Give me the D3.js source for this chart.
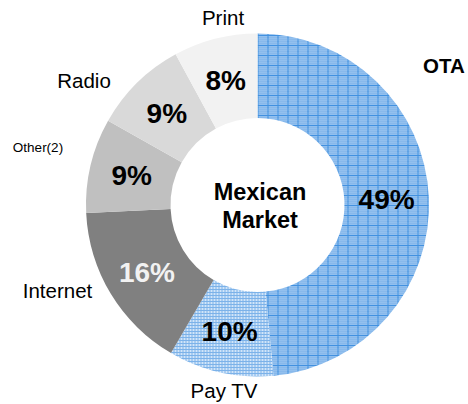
<!DOCTYPE html>
<html>
<head>
<meta charset="utf-8">
<script src="https://cdn.jsdelivr.net/npm/d3@7/dist/d3.min.js"></script>
<style>
  html, body { margin: 0; padding: 0; background: #fff; }
  svg { display: block; font-family: "Liberation Sans", Arial, sans-serif; }
</style>
</head>
<body>
<svg id="chart" width="468" height="404"></svg>
<script>
// Media share of the Mexican advertising market
const categories = ["OTA", "Pay TV", "Internet", "Other(2)", "Radio", "Print"];
const shares = [49, 10, 16, 9, 9, 8];
const valueLabels = ["49%", "10%", "16%", "9%", "9%", "8%"];
const centerTitle = ["Mexican", "Market"];

const width = 468, height = 404;
const cx = 257.5, cy = 205;
const outerR = 171.5, innerR = 87;

const svg = d3.select("#chart");
const defs = svg.append("defs");

// Coarse grid over a dithered blue for OTA
const pOta = defs.append("pattern")
  .attr("id", "pat-ota").attr("patternUnits", "userSpaceOnUse")
  .attr("width", 10).attr("height", 10);
pOta.append("rect").attr("width", 10).attr("height", 10).attr("fill", "#93c0ee");
for (let i = 0; i < 10; i += 2) {
  for (let j = 0; j < 10; j += 2) {
    pOta.append("rect").attr("x", i + ((j / 2) % 2)).attr("y", j)
      .attr("width", 1).attr("height", 1).attr("fill", "#7eb2e8");
  }
}
pOta.append("rect").attr("x", 0).attr("y", 0).attr("width", 10).attr("height", 1).attr("fill", "#4291e0");
pOta.append("rect").attr("x", 0).attr("y", 0).attr("width", 1).attr("height", 10).attr("fill", "#4291e0");

// Fine lattice for Pay TV
const pPay = defs.append("pattern")
  .attr("id", "pat-pay").attr("patternUnits", "userSpaceOnUse")
  .attr("width", 3).attr("height", 3);
pPay.append("rect").attr("width", 3).attr("height", 3).attr("fill", "#d2e5f9");
pPay.append("rect").attr("x", 0).attr("y", 0).attr("width", 3).attr("height", 1).attr("fill", "#7cb2e9");
pPay.append("rect").attr("x", 0).attr("y", 0).attr("width", 1).attr("height", 3).attr("fill", "#7cb2e9");

const fills = d3.scaleOrdinal()
  .domain(categories)
  .range(["url(#pat-ota)", "url(#pat-pay)", "#808080", "#c0c0c0", "#d9d9d9", "#f2f2f2"]);
const valueColors = d3.scaleOrdinal()
  .domain(categories)
  .range(["#000", "#000", "#f2f2f2", "#000", "#000", "#000"]);

const rows = categories.map((c, i) => ({ cat: c, value: shares[i], text: valueLabels[i] }));

const pie = d3.pie().sort(null).value(d => d.value);
const arc = d3.arc().innerRadius(innerR).outerRadius(outerR);
const arcs = pie(rows);

const g = svg.append("g").attr("transform", `translate(${cx},${cy})`);

g.selectAll("path.slice")
  .data(arcs)
  .join("path")
  .attr("class", "slice")
  .attr("d", arc)
  .attr("fill", d => fills(d.data.cat));

// Percentages at each slice's centroid
g.selectAll("text.value")
  .data(arcs)
  .join("text")
  .attr("class", "value")
  .attr("transform", d => `translate(${arc.centroid(d)})`)
  .attr("text-anchor", "middle")
  .attr("dy", "0.35em")
  .attr("font-size", 28)
  .attr("font-weight", "bold")
  .attr("fill", d => valueColors(d.data.cat))
  .text(d => d.data.text);

// Category names around the ring
const namePlacement = {
  "OTA":      { x: 444, y: 73, size: 20.5, bold: true },
  "Pay TV":   { x: 224, y: 397.5, size: 20.5 },
  "Internet": { x: 57.5, y: 297.5, size: 20.5 },
  "Other(2)": { x: 38, y: 152, size: 13.5 },
  "Radio":    { x: 84, y: 88, size: 20.5 },
  "Print":    { x: 223, y: 25, size: 20.5 }
};

svg.selectAll("text.name")
  .data(rows)
  .join("text")
  .attr("class", "name")
  .attr("x", d => namePlacement[d.cat].x)
  .attr("y", d => namePlacement[d.cat].y)
  .attr("text-anchor", "middle")
  .attr("font-size", d => namePlacement[d.cat].size)
  .attr("font-weight", d => namePlacement[d.cat].bold ? "bold" : "normal")
  .attr("fill", "#000")
  .text(d => d.cat);

// Title in the hole
g.selectAll("text.title")
  .data(centerTitle)
  .join("text")
  .attr("class", "title")
  .attr("x", 2.5)
  .attr("y", (d, i) => -5 + i * 28)
  .attr("text-anchor", "middle")
  .attr("font-size", 23.5)
  .attr("font-weight", "bold")
  .attr("fill", "#000")
  .text(d => d);
</script>
</body>
</html>
